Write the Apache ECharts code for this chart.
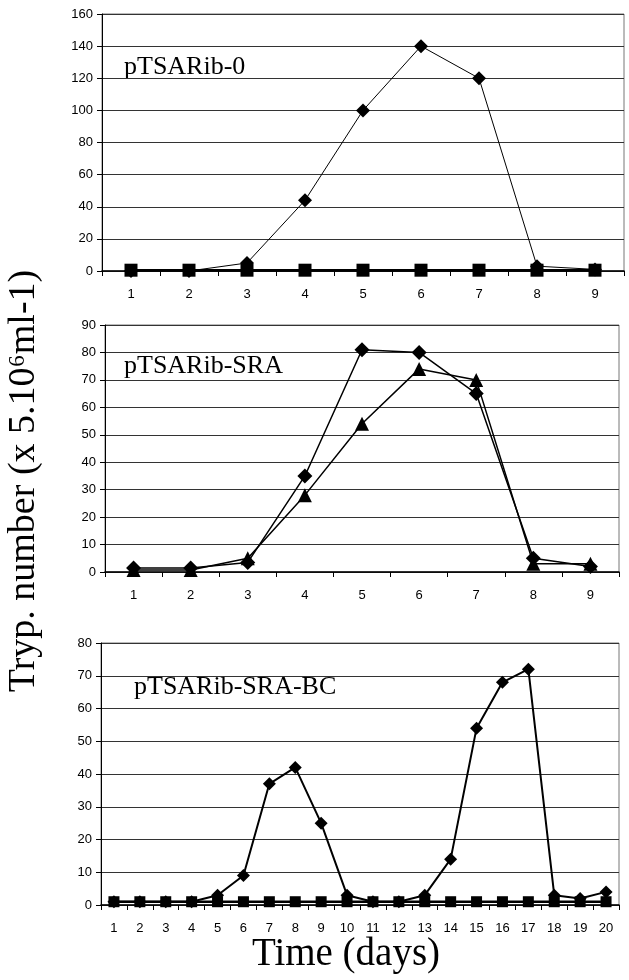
<!DOCTYPE html>
<html>
<head>
<meta charset="utf-8">
<script src="https://cdn.jsdelivr.net/npm/echarts@6/dist/echarts.min.js"></script>
<style>
html,body{margin:0;padding:0;background:#fff;}
#chart{width:629px;height:980px;}
</style>
</head>
<body>
<div id="chart"></div>
<script>
// ---- data ----
const days9 = ['1','2','3','4','5','6','7','8','9'];
const days20 = ['1','2','3','4','5','6','7','8','9','10','11','12','13','14','15','16','17','18','19','20'];

const p0Diamond = [0, 0, 5, 44, 100, 140, 120, 3, 1];
const p0Square  = [0.5, 0.5, 0.5, 0.5, 0.5, 0.5, 0.5, 0.5, 0.5];

const sraDiamond  = [1.5, 1.5, 3.5, 35, 81, 80, 65, 5, 2];
const sraTriangle = [0.7, 0.7, 5, 28, 54, 74, 70, 3, 3];

const bcDiamond = [1, 1, 1, 1, 3, 9, 37, 42, 25, 3, 1, 1, 3, 14, 54, 68, 72, 3, 2, 4];
const bcSquare  = [1, 1, 1, 1, 1, 1, 1, 1, 1, 1, 1, 1, 1, 1, 1, 1, 1, 1, 1, 1];

const panelTitles = ['pTSARib-0', 'pTSARib-SRA', 'pTSARib-SRA-BC'];
const yLabel = 'Tryp. number (x 5.10\u2076ml-1)';
const xLabel = 'Time (days)';

// ---- chart ----
const chart = echarts.init(document.getElementById('chart'), null, {renderer: 'canvas'});

const grids = [
  {left: 102, top: 14,  width: 522, height: 257},
  {left: 105, top: 325, width: 514, height: 247},
  {left: 101, top: 643, width: 518, height: 262}
];
const yRanges = [[0,160,20],[0,90,10],[0,80,10]];
const cats = [days9, days9, days20];

const axisFont = {fontFamily: 'Liberation Sans, Arial, sans-serif', fontSize: 13, color: '#000'};
const serif = '"Liberation Serif", "Times New Roman", serif';

const option = {
  animation: false,
  backgroundColor: '#fff',
  grid: grids.map(g => Object.assign({show: true, borderColor: '#777', borderWidth: 1, backgroundColor: 'transparent'}, g)),
  xAxis: cats.map((c, i) => ({
    type: 'category', gridIndex: i, data: c, boundaryGap: true,
    axisLine: {show: true, lineStyle: {color: '#000', width: 1.5}},
    axisTick: {show: true, inside: false, length: 5, lineStyle: {color: '#000'}},
    axisLabel: Object.assign({margin: 17, interval: 0}, axisFont),
    splitLine: {show: false}
  })),
  yAxis: yRanges.map((r, i) => ({
    type: 'value', gridIndex: i, min: r[0], max: r[1], interval: r[2],
    axisLine: {show: true, lineStyle: {color: '#000', width: 1}},
    axisTick: {show: true, length: 5, lineStyle: {color: '#000'}},
    axisLabel: Object.assign({margin: 9}, axisFont),
    splitLine: {show: true, lineStyle: {color: '#333', width: 1}}
  })),
  series: [
    {type: 'line', xAxisIndex: 0, yAxisIndex: 0, data: p0Square, symbol: 'rect', symbolSize: 13,
     lineStyle: {color: '#000', width: 2.5}, itemStyle: {color: '#000'}, z: 3},
    {type: 'line', xAxisIndex: 0, yAxisIndex: 0, data: p0Diamond, symbol: 'diamond', symbolSize: 14,
     lineStyle: {color: '#000', width: 1}, itemStyle: {color: '#000'}, z: 2},

    {type: 'line', xAxisIndex: 1, yAxisIndex: 1, data: sraDiamond, symbol: 'diamond', symbolSize: 15,
     lineStyle: {color: '#000', width: 1.5}, itemStyle: {color: '#000'}},
    {type: 'line', xAxisIndex: 1, yAxisIndex: 1, data: sraTriangle, symbol: 'triangle', symbolSize: 14,
     lineStyle: {color: '#000', width: 1.5}, itemStyle: {color: '#000'}},

    {type: 'line', xAxisIndex: 2, yAxisIndex: 2, data: bcSquare, symbol: 'rect', symbolSize: 11,
     lineStyle: {color: '#000', width: 2.5}, itemStyle: {color: '#000'}, z: 3},
    {type: 'line', xAxisIndex: 2, yAxisIndex: 2, data: bcDiamond, symbol: 'diamond', symbolSize: 13,
     lineStyle: {color: '#000', width: 2}, itemStyle: {color: '#000'}, z: 2}
  ],
  graphic: [
    {type: 'text', left: 124, top: 54, style: {text: panelTitles[0], font: '26px ' + serif, fill: '#000'}},
    {type: 'text', left: 124, top: 353, style: {text: panelTitles[1], font: '26px ' + serif, fill: '#000'}},
    {type: 'text', left: 134, top: 674, style: {text: panelTitles[2], font: '26px ' + serif, fill: '#000'}},
    {type: 'text', x: 24, y: 481, rotation: Math.PI / 2,
     style: {text: yLabel, font: '38px ' + serif, fill: '#000', textAlign: 'center', textVerticalAlign: 'middle'}},
    {type: 'text', x: 346, y: 955,
     style: {text: xLabel, font: '39px ' + serif, fill: '#000', textAlign: 'center', textVerticalAlign: 'middle'}}
  ]
};
chart.setOption(option);
</script>
</body>
</html>
